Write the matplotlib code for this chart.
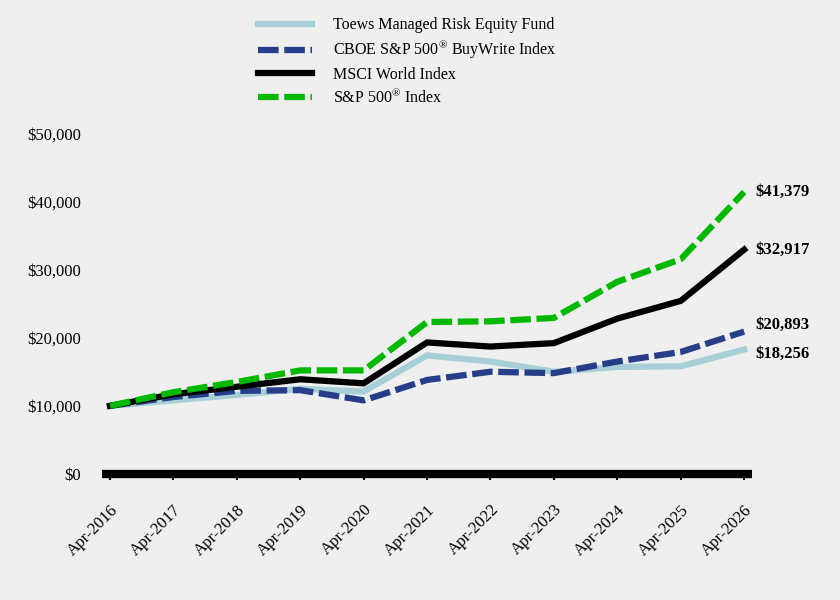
import matplotlib.pyplot as plt
from matplotlib.ticker import FuncFormatter

plt.rcParams['font.family'] = ['Liberation Serif', 'DejaVu Serif']
plt.rcParams['mathtext.fontset'] = 'custom'
plt.rcParams['mathtext.rm'] = 'Liberation Serif'

years = ['Apr-2016', 'Apr-2017', 'Apr-2018', 'Apr-2019', 'Apr-2020', 'Apr-2021',
         'Apr-2022', 'Apr-2023', 'Apr-2024', 'Apr-2025', 'Apr-2026']
toews = [10000, 10800, 11600, 12500, 12100, 17400, 16500, 15000, 15700, 15800, 18256]
buywrite = [10000, 11300, 12200, 12300, 10800, 13800, 15000, 14800, 16500, 17900, 20893]
msci = [10000, 11700, 12800, 13900, 13300, 19300, 18700, 19200, 22800, 25400, 32917]
sp500 = [10000, 12000, 13500, 15200, 15200, 22300, 22400, 22900, 28200, 31500, 41379]

bg = '#efefef'
fig = plt.figure(figsize=(8.4, 6), dpi=100, facecolor=bg)
ax = fig.add_axes([0.1214, 0.21, 0.774, 0.568], facecolor=bg)

x = list(range(len(years)))
lw = 4.5
reg = '$^{\\mathrm{®}}$'
ax.plot(x, toews, color='#a7d0d6', lw=lw, label='Toews Managed Risk Equity Fund', zorder=3)
ax.plot(x, buywrite, color='#263e8a', lw=lw, dashes=(3.3, 0.9),
        label='CBOE S&P 500' + reg + ' BuyWrite Index', zorder=3)
ax.plot(x, msci, color='black', lw=lw, label='MSCI World Index', zorder=4)
ax.plot(x, sp500, color='#00b800', lw=lw, dashes=(3.3, 0.9),
        label='S&P 500' + reg + ' Index', zorder=5)

# labels at the end of each line
ends = [(sp500[-1], 0), (msci[-1], 0), (buywrite[-1], 5), (toews[-1], -3)]
for val, dy in ends:
    ax.annotate('${:,.0f}'.format(val), (x[-1], val), xytext=(8, dy),
                textcoords='offset points', va='center', ha='left',
                fontsize=12, fontweight='bold')

ax.set_xlim(-0.126, len(years) - 1 + 0.126)
ax.set_ylim(0, 50000)
ax.set_yticks(range(0, 50001, 10000))
ax.yaxis.set_major_formatter(FuncFormatter(lambda v, p: '${:,.0f}'.format(v)))
ax.set_xticks(x)
ax.set_xticklabels(years, rotation=45, ha='right', rotation_mode='anchor')
ax.tick_params(axis='y', length=0, labelsize=12, pad=15)
ax.tick_params(axis='x', length=4, width=1.5, labelsize=12, pad=16)

for s in ['top', 'right', 'left']:
    ax.spines[s].set_visible(False)
ax.spines['bottom'].set_linewidth(6)
ax.spines['bottom'].set_capstyle('butt')
ax.spines['bottom'].set_zorder(6)

leg = fig.legend(loc='upper left', bbox_to_anchor=(0.29, 0.995), frameon=False,
                 fontsize=11.5, handlelength=3.4, handletextpad=1.3, labelspacing=0.33)
fig.savefig('out.png', dpi=100, facecolor=bg)
